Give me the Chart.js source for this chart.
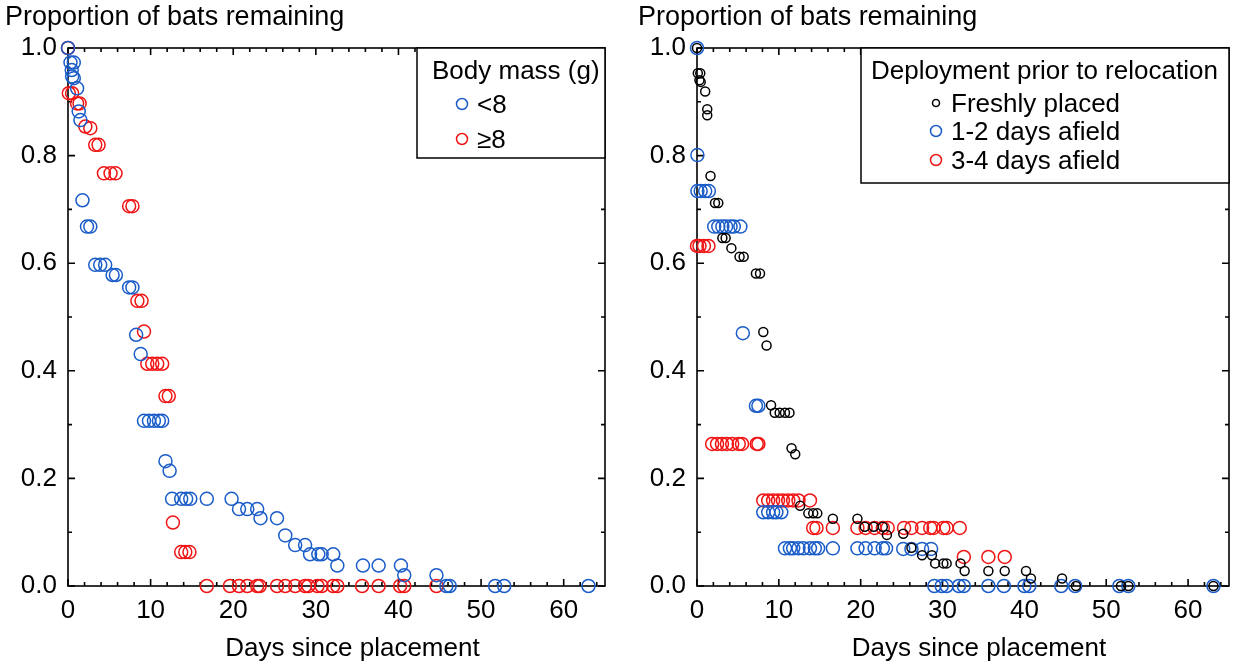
<!DOCTYPE html>
<html>
<head>
<meta charset="utf-8">
<script src="https://cdn.jsdelivr.net/npm/chart.js@4.4.1/dist/chart.umd.min.js"></script>
<style>
  body { margin: 0; background: #fff; }
  #wrap { position: relative; width: 1237px; height: 665px; }
  #leftBox { position: absolute; left: 0; top: 0; width: 620px; height: 665px; }
  #rightBox { position: absolute; left: 620px; top: 0; width: 617px; height: 665px; }
</style>
</head>
<body>
<div id="wrap">
  <div id="leftBox"><canvas id="massChart" width="620" height="665"></canvas></div>
  <div id="rightBox"><canvas id="deployChart" width="617" height="665"></canvas></div>
</div>
<script>
// axis text
var yTitle = 'Proportion of bats remaining';
var xTitle = 'Days since placement';
var xTicks = [0, 10, 20, 30, 40, 50, 60];
var yTicks = [0, 0.2, 0.4, 0.6, 0.8, 1.0];

// left panel: body mass
var massLabels = ['<8', '\u22658'];
var massTitle = 'Body mass (g)';
var smallX = [0, 0.3, 0.7, 0.45, 0.5, 0.7, 1.1, 1.3, 1.5, 1.75, 2.3, 2.7, 3.3, 3.9, 4.5, 5.4, 5.8, 7.4, 7.8,
  8.25, 8.8, 9.2, 9.8, 10.4, 11.0, 11.4, 11.8, 12.3, 12.6, 13.7, 14.3, 14.8, 16.8, 19.8, 20.7, 21.7, 22.9,
  23.3, 25.3, 26.3, 27.5, 28.7, 29.3, 30.3, 30.7, 32.1, 32.6, 35.7, 37.6, 40.3, 40.7, 44.6,
  45.8, 46.2, 51.7, 52.8, 63.0];
var smallY = [1.0, 0.973, 0.973, 0.959, 0.947, 0.944, 0.925, 0.882, 0.866, 0.717, 0.668, 0.668, 0.597, 0.597, 0.597, 0.578, 0.578, 0.555, 0.555,
  0.467, 0.431, 0.307, 0.307, 0.307, 0.307, 0.307, 0.232, 0.214, 0.162, 0.162, 0.162, 0.162, 0.162, 0.162, 0.143, 0.143, 0.143,
  0.126, 0.126, 0.094, 0.076, 0.076, 0.059, 0.059, 0.059, 0.059, 0.038, 0.038, 0.038, 0.038, 0.020, 0.020,
  0, 0, 0, 0, 0];
var largeX = [0, 0.1, 0.5, 1.1, 1.4, 2.1, 2.7, 3.3, 3.7, 4.35, 5.15, 5.75, 7.4, 7.8, 8.4, 8.9, 9.2,
  9.6, 10.2, 10.8, 11.4, 11.8, 12.2, 12.7, 13.7, 14.2, 14.7,
  16.8, 19.6, 20.7, 21.7, 22.9, 23.2, 25.3, 26.3, 27.5, 28.7, 29.1, 30.2, 30.7, 32.1, 32.6, 35.6, 37.6, 40.2, 40.7, 44.6];
var largeY = [1.0, 0.916, 0.916, 0.897, 0.897, 0.854, 0.851, 0.820, 0.820, 0.767, 0.767, 0.767, 0.706, 0.706, 0.530, 0.530, 0.473,
  0.413, 0.413, 0.413, 0.413, 0.353, 0.353, 0.118, 0.063, 0.063, 0.063,
  0, 0, 0, 0, 0, 0, 0, 0, 0, 0, 0, 0, 0, 0, 0, 0, 0, 0, 0, 0];

// right panel: deployment before relocation
var deployLabels = ['Freshly placed', '1-2 days afield', '3-4 days afield'];
var deployTitle = 'Deployment prior to relocation';
var freshX = [0, 0.1, 0.4, 0.3, 0.45, 1.0, 1.25, 1.25, 1.65, 2.2, 2.6, 3.1, 3.5, 4.2, 5.2, 5.7, 7.2, 7.7,
  8.1, 8.5, 9.05, 9.5, 10.1, 10.75, 11.3, 11.55, 12.0, 12.6, 13.6, 14.2, 14.7, 16.6, 19.6,
  20.5, 21.6, 22.7, 23.2, 25.2, 26.2, 27.5, 28.7, 29.1, 30.1, 30.5, 32.2, 32.7, 35.6, 37.6, 40.2,
  40.8, 44.6, 46.3, 51.8, 52.7, 63.1];
var freshY = [1.0, 0.953, 0.953, 0.940, 0.937, 0.919, 0.886, 0.875, 0.762, 0.712, 0.712, 0.647, 0.647, 0.628, 0.612, 0.612, 0.581, 0.581,
  0.472, 0.447, 0.336, 0.322, 0.322, 0.322, 0.322, 0.256, 0.245, 0.149, 0.135, 0.135, 0.135, 0.125, 0.125,
  0.110, 0.110, 0.110, 0.095, 0.097, 0.071, 0.057, 0.057, 0.042, 0.042, 0.042, 0.042, 0.028, 0.028, 0.028, 0.028,
  0.014, 0.014, 0, 0, 0, 0];
var afield12X = [0, 0.05, 0.05, 0.45, 1.0, 1.45, 2.1, 2.6, 3.1, 3.55, 4.1, 4.5, 5.3, 5.6, 7.2, 7.5,
  8.1, 8.7, 9.3, 9.7, 10.3, 10.75, 11.35, 11.75, 12.4, 13.0, 13.8, 14.4, 14.8, 16.6,
  19.6, 20.6, 21.7, 22.7, 23.1, 25.2, 26.2, 27.5, 28.6,
  29.0, 29.9, 30.5, 32.0, 32.6, 35.6, 37.5, 40.0, 40.6, 44.5, 46.2, 51.6, 52.7, 63.1];
var afield12Y = [1.0, 0.801, 0.734, 0.734, 0.734, 0.734, 0.668, 0.668, 0.668, 0.668, 0.668, 0.668, 0.668, 0.470, 0.335, 0.335,
  0.137, 0.137, 0.137, 0.137, 0.137, 0.070, 0.070, 0.070, 0.070, 0.070, 0.070, 0.070, 0.070, 0.070,
  0.070, 0.070, 0.070, 0.070, 0.070, 0.069, 0.069, 0.069, 0.069,
  0, 0, 0, 0, 0, 0, 0, 0, 0, 0, 0, 0, 0, 0];
var afield34X = [0, 0.3, 0.85, 1.4, 1.85, 2.45, 3.05, 3.65, 4.3, 5.1, 5.5, 7.3, 7.5,
  8.1, 8.7, 9.3, 9.9, 10.5, 11.15, 11.75, 12.4, 13.8,
  14.2, 14.6, 16.6, 19.6, 20.6, 21.7, 22.7, 23.3, 25.3, 26.2, 27.5, 28.5, 28.9, 30.1, 30.5, 32.1,
  32.6, 35.6, 37.6];
var afield34Y = [0.632, 0.632, 0.632, 0.632, 0.264, 0.264, 0.264, 0.264, 0.264, 0.264, 0.264, 0.264, 0.264,
  0.159, 0.159, 0.159, 0.159, 0.159, 0.159, 0.159, 0.159, 0.159,
  0.108, 0.108, 0.108, 0.108, 0.108, 0.108, 0.108, 0.108, 0.108, 0.108, 0.108, 0.108, 0.108, 0.108, 0.108, 0.108,
  0.054, 0.054, 0.054];

var BLUE = '#1a5cc8';
var RED = '#f01414';
var FONT = 'Liberation Sans, Arial, sans-serif';

function toPoints(xs, ys) {
  var out = [];
  for (var i = 0; i < xs.length; i++) out.push({ x: xs[i], y: ys[i] });
  return out;
}

function series(label, xs, ys, color, radius) {
  return {
    label: label,
    data: toPoints(xs, ys),
    showLine: false,
    clip: false,
    pointStyle: 'circle',
    pointRadius: radius,
    pointBorderWidth: 1.5,
    pointBorderColor: color,
    pointBackgroundColor: 'rgba(0,0,0,0)'
  };
}

// box round the plot, ticks pointing inwards, x axis title
var framePlugin = {
  id: 'frame',
  beforeDatasetsDraw: function(chart) {
    var ctx = chart.ctx, a = chart.chartArea;
    var xs = chart.scales.x, ys = chart.scales.y;
    ctx.save();
    ctx.strokeStyle = '#000';
    ctx.lineWidth = 1.6;
    ctx.strokeRect(a.left, a.top, a.right - a.left, a.bottom - a.top);
    ctx.beginPath();
    for (var d = 0; d <= 64; d += 2) {
      var len = d % 10 === 0 ? 7 : 4;
      var px = xs.getPixelForValue(d);
      ctx.moveTo(px, a.bottom); ctx.lineTo(px, a.bottom - len);
      ctx.moveTo(px, a.top); ctx.lineTo(px, a.top + len);
    }
    for (var k = 0; k <= 10; k++) {
      var l2 = k % 2 === 0 ? 7 : 4;
      var py = ys.getPixelForValue(k / 10);
      ctx.moveTo(a.left, py); ctx.lineTo(a.left + l2, py);
      ctx.moveTo(a.right, py); ctx.lineTo(a.right - l2, py);
    }
    ctx.stroke();
    ctx.fillStyle = '#000';
    ctx.font = '26px ' + FONT;
    ctx.textAlign = 'center';
    ctx.textBaseline = 'alphabetic';
    ctx.fillText(xTitle, (a.left + a.right) / 2 + 16, chart.height - 9);
    ctx.restore();
  }
};

// legend in a box at the top right of the plot
var boxLegend = {
  id: 'boxLegend',
  afterDraw: function(chart, args, opts) {
    var ctx = chart.ctx, a = chart.chartArea;
    var left = a.right - opts.width, top = a.top;
    ctx.save();
    ctx.fillStyle = '#fff';
    ctx.fillRect(left, top, opts.width, opts.height);
    ctx.strokeStyle = '#000';
    ctx.lineWidth = 1.5;
    ctx.strokeRect(left, top, opts.width, opts.height);
    ctx.fillStyle = '#000';
    ctx.font = '26px ' + FONT;
    ctx.textBaseline = 'middle';
    ctx.textAlign = 'left';
    ctx.fillText(opts.title, left + opts.titleX, top + 24);
    chart.data.datasets.forEach(function(ds, i) {
      var y = top + opts.rows[i];
      ctx.beginPath();
      ctx.lineWidth = 1.5;
      ctx.strokeStyle = ds.pointBorderColor;
      ctx.arc(left + opts.markerX, y, ds.pointRadius - 1, 0, Math.PI * 2);
      ctx.stroke();
      ctx.fillStyle = '#000';
      ctx.fillText(ds.label, left + opts.textX, y + 2);
    });
    ctx.restore();
  }
};

function makeOptions(padLeft, padRight, axisWidth, legendOpts) {
  return {
    responsive: false,
    animation: false,
    layout: { padding: { left: padLeft, right: padRight, top: 0, bottom: 0 } },
    plugins: {
      legend: { display: false },
      tooltip: { enabled: false },
      title: {
        display: true, text: yTitle, align: 'start', color: '#000',
        font: { size: 27, family: FONT, weight: 'normal' },
        padding: { top: 1, bottom: 14.6 }
      },
      boxLegend: legendOpts
    },
    scales: {
      x: {
        type: 'linear', min: 0, max: 65,
        grid: { display: false, drawTicks: false },
        border: { display: false },
        ticks: { stepSize: 10, color: '#000', padding: 9, maxRotation: 0, font: { size: 26, family: FONT } },
        afterBuildTicks: function(s) { s.ticks = xTicks.map(function(v) { return { value: v }; }); },
        afterFit: function(s) { s.height = 79; }
      },
      y: {
        type: 'linear', min: 0, max: 1,
        grid: { display: false, drawTicks: false },
        border: { display: false },
        ticks: { color: '#000', padding: 11, font: { size: 26, family: FONT },
          callback: function(v) { return v.toFixed(1); } },
        afterBuildTicks: function(s) { s.ticks = yTicks.map(function(v) { return { value: v }; }); },
        afterFit: function(s) { s.width = axisWidth; }
      }
    }
  };
}

document.addEventListener('DOMContentLoaded', function() {
  new Chart(document.getElementById('massChart').getContext('2d'), {
    type: 'scatter',
    data: {
      datasets: [
        series(massLabels[0], smallX, smallY, BLUE, 6.5),
        series(massLabels[1], largeX, largeY, RED, 6.5)
      ]
    },
    options: makeOptions(5, 15, 63, { title: massTitle, width: 188, height: 110, titleX: 15, markerX: 45, textX: 60, rows: [56, 91] }),
    plugins: [framePlugin, boxLegend]
  });

  new Chart(document.getElementById('deployChart').getContext('2d'), {
    type: 'scatter',
    data: {
      datasets: [
        series(deployLabels[0], freshX, freshY, '#000', 4.5),
        series(deployLabels[1], afield12X, afield12Y, BLUE, 6.5),
        series(deployLabels[2], afield34X, afield34Y, RED, 6.5)
      ]
    },
    options: makeOptions(18, 6, 59, { title: deployTitle, width: 368, height: 135, titleX: 10, markerX: 75, textX: 90, rows: [55, 83, 112] }),
    plugins: [framePlugin, boxLegend]
  });
});
</script>
</body>
</html>
